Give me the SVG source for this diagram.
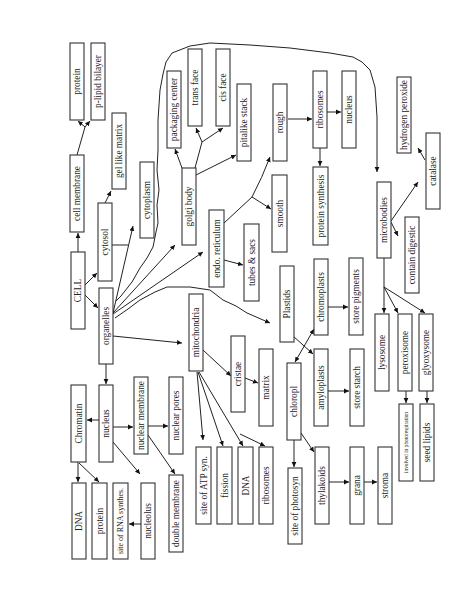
<svg xmlns="http://www.w3.org/2000/svg" width="474" height="613" viewBox="0 0 474 613">
<defs>
<marker id="ah" markerUnits="userSpaceOnUse" markerWidth="7" markerHeight="7" refX="5" refY="3" orient="auto-start-reverse"><path d="M0,0.6 L5,3 L0,5.4 z" fill="#111"/></marker>
</defs>
<style>
rect{fill:#fff;stroke:#333;stroke-width:1.1}
text{font-family:"Liberation Serif","Times New Roman",serif;font-size:9.3px;fill:#222;text-anchor:middle;dominant-baseline:central}
.sm{font-size:5.4px}
#connectors path{fill:none;stroke:#222;stroke-width:1;stroke-linejoin:round}
.a{marker-end:url(#ah)}
</style>
<rect x="0" y="0" width="474" height="613" style="fill:#fff;stroke:none"/>
<g id="connectors">
<path class="a" d="M78,252 L78,233"/>
<path class="a" d="M85,285 L97,273"/>
<path class="a" d="M85,295 L98,308"/>
<path d="M77,155 L85,127"/>
<path class="a" d="M85,127 L78,121"/>
<path class="a" d="M85,127 L90,121"/>
<path class="a" d="M105,203 L111,191"/>
<path d="M112,245 L128,245"/>
<path class="a" d="M113,313 L133,226"/>
<path class="a" d="M113,313 L175,245"/>
<path class="a" d="M113,314 L203,252"/>
<path class="a" d="M113,336 L182,343"/>
<path class="a" d="M106,364 L106,384"/>
<path class="a" d="M116,301 L121,296 L132,282 L140,268 L147,258 L153,247 L156,232 L158,223 L157,205 L159,190 L157,170 L158,150 L158,120 L160,90 L163,74 L166,62 L172,53 L190,46 L210,43 L250,45 L290,48 L330,53 L353,57 L362,62 L370,70 L375,87 L377,117 L377,150 L377,172"/>
<path class="a" d="M115,318 L128,309 L140,300 L155,292 L167,287 L190,287 L210,290 L223,300 L236,306 L247,313 L270,323"/>
<path class="a" d="M99,420 L87,420"/>
<path class="a" d="M113,427 L133,427"/>
<path class="a" d="M113,442 L140,474"/>
<path class="a" d="M148,426 L168,426"/>
<path class="a" d="M148,435 L175,474"/>
<path class="a" d="M78,462 L78,482"/>
<path class="a" d="M79,463 L99,482"/>
<path class="a" d="M141,524 L129,524"/>
<path class="a" d="M203,350 L231,376"/>
<path class="a" d="M245,378 L258,383"/>
<path class="a" d="M197,372 L203,440"/>
<path class="a" d="M198,372 L223,446"/>
<path class="a" d="M199,372 L243,446"/>
<path class="a" d="M240,434 L265,446"/>
<path class="a" d="M182,168 L175,149"/>
<path d="M195,168 L202,142"/>
<path class="a" d="M202,142 L196,128"/>
<path class="a" d="M202,142 L223,128"/>
<path class="a" d="M196,175 L236,155"/>
<path class="a" d="M224,260 L243,265"/>
<path d="M224,223 L252,197"/>
<path class="a" d="M252,197 Q262,178 270,157"/>
<path class="a" d="M252,197 L271,209"/>
<path class="a" d="M288,119 L312,119"/>
<path class="a" d="M327,112 L341,112"/>
<path class="a" d="M320,148 L320,166"/>
<path class="a" d="M328,307 L348,307"/>
<path class="a" d="M328,391 L349,391"/>
<path class="a" d="M293,336 L313,354"/>
<path class="a" d="M295,362 L314,329" style="marker-start:url(#ah)"/>
<path class="a" d="M294,440 L294,467"/>
<path class="a" d="M301,433 L314,452"/>
<path class="a" d="M329,482 L349,482"/>
<path class="a" d="M364,482 L377,482"/>
<path class="a" d="M391,221 L418,182"/>
<path class="a" d="M425,160 L418,148"/>
<path class="a" d="M391,222 L398,236"/>
<path d="M384,258 L384,287"/>
<path class="a" d="M384,287 L384,313"/>
<path class="a" d="M384,287 L398,313"/>
<path class="a" d="M384,287 L425,313"/>
<path class="a" d="M406,391 L406,403"/>
<path class="a" d="M427,391 L427,403"/>
</g>
<g id="n-cell"><rect x="71" y="252" width="14" height="77"/><text transform="translate(78,290.5) rotate(-90)">CELL</text></g>
<g id="n-cell-membrane"><rect x="70" y="155" width="14" height="77"/><text transform="translate(77,193.5) rotate(-90)">cell membrane</text></g>
<g id="n-protein1"><rect x="70" y="43" width="14" height="77"/><text transform="translate(77,81.5) rotate(-90)">protein</text></g>
<g id="n-plipid"><rect x="91" y="43" width="14" height="77"/><text transform="translate(98,81.5) rotate(-90)">p-lipid bilayer</text></g>
<g id="n-cytosol"><rect x="98" y="203" width="14" height="78"/><text transform="translate(105,242) rotate(-90)">cytosol</text></g>
<g id="n-gel"><rect x="112" y="113" width="14" height="76"/><text transform="translate(119,151) rotate(-90)">gel like matrix</text></g>
<g id="n-cytoplasm"><rect x="140" y="162" width="14" height="76"/><text transform="translate(147,200) rotate(-90)">cytoplasm</text></g>
<g id="n-organelles"><rect x="99" y="288" width="14" height="76"/><text transform="translate(106,326) rotate(-90)">organelles</text></g>
<g id="n-nucleus"><rect x="99" y="385" width="14" height="77"/><text transform="translate(106,423.5) rotate(-90)">nucleus</text></g>
<g id="n-chromatin"><rect x="71" y="385" width="15" height="77"/><text transform="translate(78.5,423.5) rotate(-90)">Chromatin</text></g>
<g id="n-nuclear-membrane"><rect x="134" y="377" width="14" height="77"/><text transform="translate(141,415.5) rotate(-90)">nuclear membrane</text></g>
<g id="n-nuclear-pores"><rect x="169" y="377" width="14" height="77"/><text transform="translate(176,415.5) rotate(-90)">nuclear pores</text></g>
<g id="n-dna1"><rect x="72" y="483" width="14" height="76"/><text transform="translate(79,521) rotate(-90)">DNA</text></g>
<g id="n-protein2"><rect x="92" y="483" width="15" height="76"/><text transform="translate(99.5,521) rotate(-90)">protein</text></g>
<g id="n-rna"><rect x="113" y="483" width="15" height="76"/><text transform="translate(120.5,521) rotate(-90)" style="font-size:8px">site of RNA synthes.</text></g>
<g id="n-nucleolus"><rect x="141" y="483" width="14" height="76"/><text transform="translate(148,521) rotate(-90)">nucleolus</text></g>
<g id="n-double-membrane"><rect x="169" y="475" width="14" height="77"/><text transform="translate(176,513.5) rotate(-90)">double membrane</text></g>
<g id="n-mitochondria"><rect x="189" y="294" width="14" height="77"/><text transform="translate(196,332.5) rotate(-90)">mitochondria</text></g>
<g id="n-cristae"><rect x="231" y="336" width="14" height="76"/><text transform="translate(238,374) rotate(-90)">cristae</text></g>
<g id="n-matrix"><rect x="259" y="349" width="14" height="77"/><text transform="translate(266,387.5) rotate(-90)">matrix</text></g>
<g id="n-atp"><rect x="196" y="447" width="15" height="77"/><text transform="translate(203.5,485.5) rotate(-90)">site of ATP syn.</text></g>
<g id="n-fission"><rect x="217" y="447" width="15" height="77"/><text transform="translate(224.5,485.5) rotate(-90)">fission</text></g>
<g id="n-dna2"><rect x="238" y="447" width="15" height="77"/><text transform="translate(245.5,485.5) rotate(-90)">DNA</text></g>
<g id="n-ribosomes2"><rect x="259" y="447" width="14" height="77"/><text transform="translate(266,485.5) rotate(-90)">ribosomes</text></g>
<g id="n-golgi"><rect x="182" y="168" width="14" height="77"/><text transform="translate(189,206.5) rotate(-90)">golgi body</text></g>
<g id="n-packaging"><rect x="167" y="71" width="14" height="77"/><text transform="translate(174,109.5) rotate(-90)">packaging center</text></g>
<g id="n-trans"><rect x="188" y="49" width="14" height="77"/><text transform="translate(195,87.5) rotate(-90)">trans face</text></g>
<g id="n-cis"><rect x="216" y="49" width="14" height="77"/><text transform="translate(223,87.5) rotate(-90)">cis face</text></g>
<g id="n-pitalike"><rect x="237" y="84" width="14" height="77"/><text transform="translate(244,122.5) rotate(-90)">pitalike stack</text></g>
<g id="n-endo"><rect x="209" y="210" width="15" height="77"/><text transform="translate(216.5,248.5) rotate(-90)">endo. reticulum</text></g>
<g id="n-tubes"><rect x="244" y="224" width="15" height="77"/><text transform="translate(251.5,262.5) rotate(-90)">tubes &amp; sacs</text></g>
<g id="n-smooth"><rect x="272" y="175" width="15" height="77"/><text transform="translate(279.5,213.5) rotate(-90)">smooth</text></g>
<g id="n-rough"><rect x="273" y="84" width="14" height="77"/><text transform="translate(280,122.5) rotate(-90)">rough</text></g>
<g id="n-ribosomes1"><rect x="313" y="71" width="14" height="77"/><text transform="translate(320,109.5) rotate(-90)">ribosomes</text></g>
<g id="n-nucleus2"><rect x="342" y="71" width="14" height="77"/><text transform="translate(349,109.5) rotate(-90)">nucleus</text></g>
<g id="n-protein-synthesis"><rect x="313" y="167" width="15" height="78"/><text transform="translate(320.5,206) rotate(-90)">protein synthesis</text></g>
<g id="n-plastids"><rect x="280" y="266" width="14" height="76"/><text transform="translate(287,304) rotate(-90)">Plastids</text></g>
<g id="n-chromoplasts"><rect x="314" y="259" width="14" height="76"/><text transform="translate(321,297) rotate(-90)">chromoplasts</text></g>
<g id="n-store-pigments"><rect x="349" y="258" width="14" height="77"/><text transform="translate(356,296.5) rotate(-90)">store pigments</text></g>
<g id="n-amyloplasts"><rect x="314" y="349" width="14" height="77"/><text transform="translate(321,387.5) rotate(-90)">amyloplasts</text></g>
<g id="n-store-starch"><rect x="350" y="349" width="14" height="77"/><text transform="translate(357,387.5) rotate(-90)">store starch</text></g>
<g id="n-chloropl"><rect x="287" y="363" width="14" height="77"/><text transform="translate(294,401.5) rotate(-90)">chloropl</text></g>
<g id="n-photosyn"><rect x="288" y="468" width="14" height="76"/><text transform="translate(295,506) rotate(-90)">site of photosyn</text></g>
<g id="n-thylakoids"><rect x="315" y="447" width="14" height="77"/><text transform="translate(322,485.5) rotate(-90)">thylakoids</text></g>
<g id="n-grana"><rect x="350" y="447" width="14" height="77"/><text transform="translate(357,485.5) rotate(-90)">grana</text></g>
<g id="n-stroma"><rect x="378" y="447" width="14" height="77"/><text transform="translate(385,485.5) rotate(-90)">stroma</text></g>
<g id="n-microbodies"><rect x="377" y="182" width="14" height="76"/><text transform="translate(384,220) rotate(-90)">microbodies</text></g>
<g id="n-hydrogen-peroxide"><rect x="397" y="77" width="14" height="76"/><text transform="translate(404,115) rotate(-90)">hydrogen peroxide</text></g>
<g id="n-catalase"><rect x="426" y="133" width="14" height="76"/><text transform="translate(433,171) rotate(-90)">catalase</text></g>
<g id="n-contain"><rect x="405" y="217" width="14" height="76"/><text transform="translate(412,255) rotate(-90)">contain digestic</text></g>
<g id="n-lysosome"><rect x="375" y="314" width="14" height="77"/><text transform="translate(382,352.5) rotate(-90)">lysosome</text></g>
<g id="n-peroxisome"><rect x="398" y="314" width="14" height="77"/><text transform="translate(405,352.5) rotate(-90)">peroxisome</text></g>
<g id="n-glyoxysome"><rect x="419" y="314" width="14" height="77"/><text transform="translate(426,352.5) rotate(-90)">glyoxysome</text></g>
<g id="n-involved"><rect x="399" y="404" width="14" height="77"/><text class="sm" transform="translate(406,442.5) rotate(-90)">involved in photorespiration</text></g>
<g id="n-seed-lipids"><rect x="420" y="404" width="14" height="77"/><text transform="translate(427,442.5) rotate(-90)">seed lipids</text></g>
</svg>
